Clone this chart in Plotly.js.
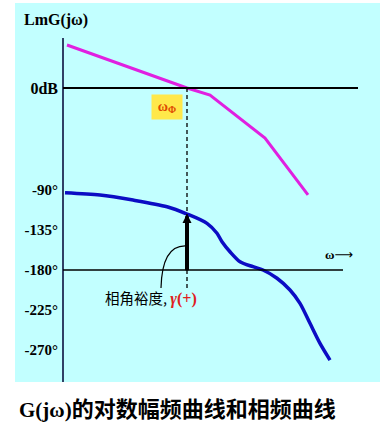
<!DOCTYPE html>
<html>
<head>
<meta charset="utf-8">
<script src="https://cdn.plot.ly/plotly-3.0.1.min.js"></script>
<style>html,body{margin:0;padding:0;background:#fff;}#chart{width:392px;height:423px;}</style>
</head>
<body>
<div id="chart"></div>
<script>
// log-frequency (decades from the vertical axis), magnitude in dB
const lgwMag = [0.04, 1.24, 1.47, 2.02, 2.45];
const magDB = [23.9, 0, -3.9, -27.8, -59.4];
// phase curve
const lgwPhase = [0.02, 0.37, 0.70, 1.04, 1.24, 1.44, 1.54, 1.59, 1.67, 1.77, 1.90, 2.00, 2.14, 2.27, 2.37, 2.47, 2.57, 2.67];
const phaseDeg = [-93.0, -95.6, -101.3, -108.8, -117.0, -127.5, -138.7, -148.2, -159.5, -170.7, -176.3, -180, -189.3, -202.5, -217.5, -240, -262.5, -281.3];
// ticks
const phaseTicks = [-90, -135, -180, -225, -270];
const phaseTickText = ['-90°', '-135°', '-180°', '-225°', '-270°'];
const magTicks = [0];
const magTickText = ['0dB'];
// crossover
const wc = 1.24;
const phaseAtWc = -117.0;

const serif = 'Liberation Serif, Times New Roman, serif';
const cjk = 'Noto Sans CJK SC';

const traces = [
  {x: lgwMag, y: magDB, xaxis: 'x', yaxis: 'y', mode: 'lines',
   line: {color: '#e020e0', width: 3}, hoverinfo: 'skip'},
  {x: lgwPhase, y: phaseDeg, xaxis: 'x', yaxis: 'y2', mode: 'lines',
   line: {color: '#0c0cc4', width: 3.5, shape: 'spline', smoothing: 0.8}, hoverinfo: 'skip'}
];

const axisPos = (63 - 15) / 365;

const layout = {
  width: 392, height: 423,
  margin: {l: 15, r: 12, t: 3, b: 41, pad: 0, autoexpand: false},
  paper_bgcolor: '#ffffff',
  plot_bgcolor: '#c2ffff',
  showlegend: false,
  xaxis: {range: [-0.48, 3.17], visible: false, fixedrange: true},
  yaxis: {range: [-163.33, 47.22], anchor: 'free', position: axisPos,
    tickvals: magTicks, ticktext: magTickText, ticks: '', showgrid: false,
    zeroline: false, showline: false, ticklabelstandoff: 5,
    tickfont: {family: serif, size: 16, color: '#000', weight: 'bold'}},
  yaxis2: {range: [-306, 120.4], overlaying: 'y', anchor: 'free', position: axisPos,
    side: 'left', tickvals: phaseTicks, ticktext: phaseTickText, ticks: '',
    showgrid: false, zeroline: false, showline: false, ticklabelstandoff: 5,
    tickfont: {family: serif, size: 15, color: '#000', weight: 'bold'}},
  shapes: [
    // vertical axis
    {type: 'line', xref: 'x', yref: 'paper', x0: 0, x1: 0, y0: 0, y1: 0.9077,
     line: {color: '#000033', width: 1.5}},
    // 0 dB line
    {type: 'line', xref: 'x', yref: 'y', x0: 0, x1: 2.95, y0: 0, y1: 0,
     line: {color: '#000', width: 2}},
    // -180 line
    {type: 'line', xref: 'x', yref: 'y2', x0: 0, x1: 2.80, y0: -180, y1: -180,
     line: {color: '#000', width: 1.5}},
    // dashed crossover line
    {type: 'line', xref: 'x', yref: 'y', x0: wc, x1: wc, y0: 0, y1: -112.2,
     line: {color: '#000', width: 1.3, dash: '4px,3px'}},
    // leader curve
    {type: 'path', xref: 'x', yref: 'y2',
     path: 'M 0.98,-200.25 Q 0.99,-152.75 1.22,-152.75',
     line: {color: '#000', width: 1.2}}
  ],
  annotations: [
    {xref: 'x', yref: 'y2', x: wc, y: phaseAtWc, ax: wc, ay: -182, axref: 'x', ayref: 'y2',
     showarrow: true, arrowhead: 2, arrowsize: 0.45, arrowwidth: 4, arrowcolor: '#000', text: ''},
    {xref: 'x', yref: 'y', x: -0.07, y: 37.8, text: 'LmG(jω)', showarrow: false,
     font: {family: serif, size: 16, color: '#000', weight: 'bold'}},
    {xref: 'x', yref: 'y', x: 1.04, y: -10.6, text: 'ω<sub>Φ</sub>', showarrow: false,
     bgcolor: '#ffe84a', width: 28, height: 22, borderpad: 1,
     font: {family: serif, size: 14, color: '#e04a00', weight: 'bold'}},
    {xref: 'x', yref: 'y2', x: 2.76, y: -162, text: 'ω<span style="font-family:DejaVu Sans;font-weight:normal">⟶</span>', showarrow: false,
     font: {family: serif, size: 13, color: '#000', weight: 'bold'}},
    {xref: 'x', yref: 'y2', x: 0.40, y: -210.4, xanchor: 'left', showarrow: false,
     text: '相角裕度, <span style="color:#e02020;font-family:Liberation Serif;font-weight:bold;font-size:16px"><i>γ</i>(+)</span>',
     font: {family: cjk, size: 14.5, color: '#000'}},
    {xref: 'paper', yref: 'paper', x: 0.005, y: -0.066, xanchor: 'left', yanchor: 'middle', showarrow: false,
     text: '<b>G(jω)</b><span style="font-family:Noto Sans CJK SC;font-size:22px;font-weight:bold">的对数幅频曲线和相频曲线</span>',
     font: {family: serif, size: 21, color: '#000'}}
  ]
};

Plotly.newPlot('chart', traces, layout, {staticPlot: true, displayModeBar: false});
</script>
</body>
</html>
